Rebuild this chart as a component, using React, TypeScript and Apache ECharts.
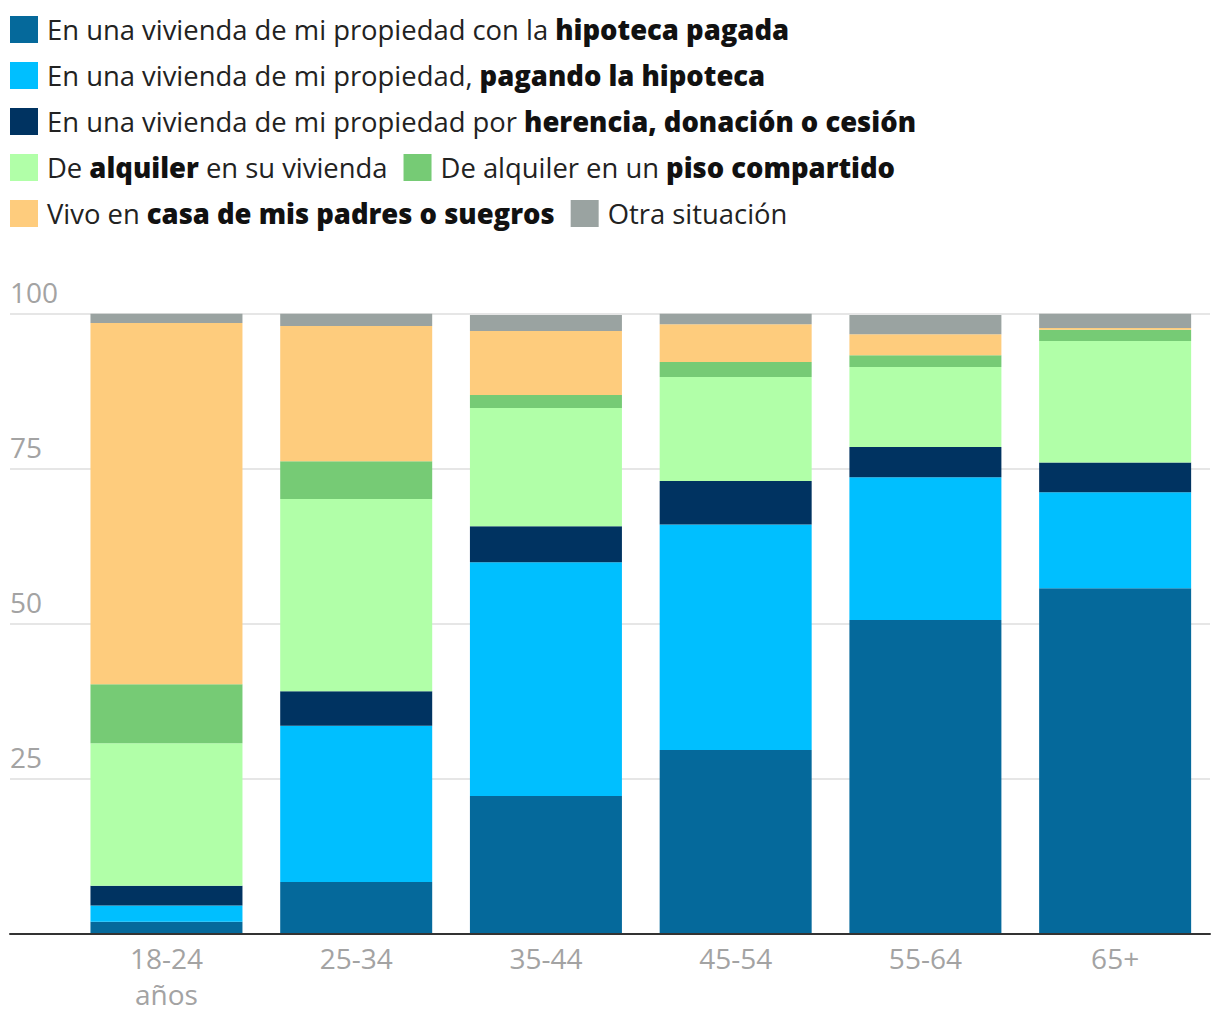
import React, { useEffect, useRef } from 'react';
import * as echarts from 'echarts';

const categories = ['18-24\naños', '25-34', '35-44', '45-54', '55-64', '65+'];
const hipotecaPagada = [1.9, 8.3, 22.2, 29.6, 50.6, 55.7];
const pagandoHipoteca = [2.6, 25.2, 37.7, 36.4, 23.0, 15.5];
const herencia = [3.2, 5.6, 5.8, 7.0, 4.9, 4.8];
const alquilerVivienda = [23.0, 31.0, 19.1, 16.8, 12.9, 19.6];
const pisoCompartido = [9.5, 6.1, 2.1, 2.4, 1.9, 1.8];
const casaPadres = [58.3, 21.8, 10.3, 6.1, 3.4, 0.3];
const otraSituacion = [1.5, 2.0, 2.6, 1.7, 3.1, 2.4];

const seriesNames = [
  'En una vivienda de mi propiedad con la hipoteca pagada',
  'En una vivienda de mi propiedad, pagando la hipoteca',
  'En una vivienda de mi propiedad por herencia, donación o cesión',
  'De alquiler en su vivienda',
  'De alquiler en un piso compartido',
  'Vivo en casa de mis padres o suegros',
  'Otra situación',
];
const legendLabels = [
  '{g| }{r|En una vivienda de mi propiedad con la }{b|hipoteca pagada}',
  '{g| }{r|En una vivienda de mi propiedad, }{b|pagando la hipoteca}',
  '{g| }{r|En una vivienda de mi propiedad por }{b|herencia, donación o cesión}',
  '{g| }{r|De }{b|alquiler}{r| en su vivienda}',
  '{g| }{r|De alquiler en un }{b|piso compartido}',
  '{g| }{r|Vivo en }{b|casa de mis padres o suegros}',
  '{g| }{r|Otra situación}',
];
const seriesColors = ['#05699b', '#00bfff', '#003361', '#b1ffa8', '#76cb75', '#fecc7d', '#9aa3a1'];
const seriesData = [hipotecaPagada, pagandoHipoteca, herencia, alquilerVivienda, pisoCompartido, casaPadres, otraSituacion];

const FONT = '"Open Sans", Roboto, sans-serif';
const FS = 27.4;
const AXFS = 28;

export default function App() {
  const ref = useRef<HTMLDivElement>(null);
  useEffect(() => {
    document.body.style.margin = '0';
    if (!ref.current) return;
    const chart = echarts.init(ref.current, null, { renderer: 'svg' });
    const labelMap: Record<string, string> = {};
    seriesNames.forEach((n, i) => (labelMap[n] = legendLabels[i]));
    chart.setOption({
      animation: false,
      textStyle: { fontFamily: FONT },
      legend: {
        left: 10,
        top: 14.5,
        width: 1150,
        padding: 0,
        itemGap: 16,
        itemWidth: 28,
        itemHeight: 27,
        icon: 'rect',
        selectedMode: false,
        data: seriesNames,
        formatter: (name: string) => labelMap[name] || name,
        textStyle: {
          fontFamily: FONT,
          fontSize: FS,
          lineHeight: 30,
          color: '#222',
          rich: {
            g: { width: 4, fontSize: FS, lineHeight: 30 },
            r: { fontFamily: FONT, fontSize: FS, lineHeight: 30, color: '#222', fontWeight: 'normal' },
            b: { fontFamily: FONT, fontSize: FS, lineHeight: 30, color: '#111', fontWeight: 800 },
          },
        },
      },
      grid: [
        { left: 10, right: 10, top: 313.7, bottom: 86.5 },
        { left: 71.6, right: 10, top: 313.7, bottom: 86.5 },
      ],
      xAxis: [
        {
          gridIndex: 0,
          type: 'value',
          min: 0,
          max: 1,
          z: 10,
          axisLine: { show: true, onZero: false, lineStyle: { color: '#333', width: 2 } },
          axisTick: { show: false },
          axisLabel: { show: false },
          splitLine: { show: false },
        },
        {
          gridIndex: 1,
          type: 'category',
          data: categories,
          axisLine: { show: false },
          axisTick: { show: false },
          axisLabel: { color: '#a3a3a3', fontSize: AXFS, lineHeight: 36, margin: 6, fontFamily: FONT },
        },
      ],
      yAxis: [
        {
          gridIndex: 0,
          type: 'value',
          min: 0,
          max: 100,
          interval: 25,
          axisLine: { show: false },
          axisTick: { show: false },
          splitLine: { lineStyle: { color: '#e6e6e6', width: 2 } },
          axisLabel: {
            inside: true,
            showMinLabel: false,
            verticalAlign: 'bottom',
            margin: 0,
            padding: [0, 0, 8, 0],
            color: '#a3a3a3',
            fontSize: AXFS,
            fontFamily: FONT,
          },
        },
        { gridIndex: 1, type: 'value', min: 0, max: 100, show: false },
      ],
      series: seriesNames.map((name, i) => ({
        name,
        type: 'bar',
        stack: 'total',
        xAxisIndex: 1,
        yAxisIndex: 1,
        barWidth: 152,
        itemStyle: { color: seriesColors[i] },
        data: seriesData[i],
      })),
    });
    return () => chart.dispose();
  }, []);
  return <div ref={ref} style={{ width: 1220, height: 1020 }} />;
}
